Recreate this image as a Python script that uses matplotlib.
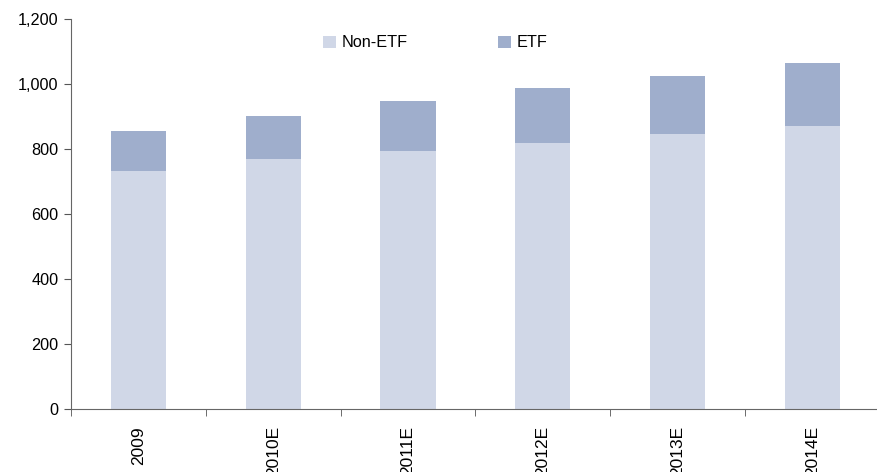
import numpy as np
import matplotlib.pyplot as plt
from matplotlib.ticker import FuncFormatter

plt.rcParams['font.family'] = ['Liberation Sans', 'DejaVu Sans']

# Data
years = ["2009", "2010E", "2011E", "2012E", "2013E", "2014E"]
non_etf = [733, 770, 795, 820, 847, 872]
etf = [124, 133, 154, 169, 179, 194]

c_non = "#D0D7E7"
c_etf = "#9FAECC"

fig = plt.figure(figsize=(8.77, 4.72), dpi=100)
ax = fig.add_axes([71 / 877, (472 - 409.4) / 472, 1 - 71 / 877, (409.4 - 19) / 472])

x = np.arange(len(years))
ax.bar(x, non_etf, width=0.41, color=c_non, label="Non-ETF")
ax.bar(x, etf, width=0.41, bottom=non_etf, color=c_etf, label="ETF")

ax.set_ylim(0, 1200)
ax.set_yticks(np.arange(0, 1201, 200))
ax.yaxis.set_major_formatter(FuncFormatter(lambda v, p: f"{int(v):,}"))
ax.set_xlim(-0.5, 5.48)

ax.set_xticks(x)
ax.set_xticklabels(years, rotation=90)
ax.set_xticks(np.arange(-0.5, 5.0, 1.0), minor=True)
ax.tick_params(axis="x", which="major", length=0, pad=12, labelsize=12.5)
ax.tick_params(axis="x", which="minor", length=5, direction="out", color="#555555")
ax.tick_params(axis="y", length=5, color="#555555", labelsize=11.7, pad=4)

for s in ["top", "right"]:
    ax.spines[s].set_visible(False)
for s in ["left", "bottom"]:
    ax.spines[s].set_color("#666666")

ax.legend(loc="upper left", bbox_to_anchor=(0.305, 0.975), ncol=2, frameon=False,
          handlelength=0.75, handleheight=0.75, handletextpad=0.35,
          columnspacing=5.6, fontsize=11.7, borderaxespad=0)

plt.savefig("out.png", dpi=100)
